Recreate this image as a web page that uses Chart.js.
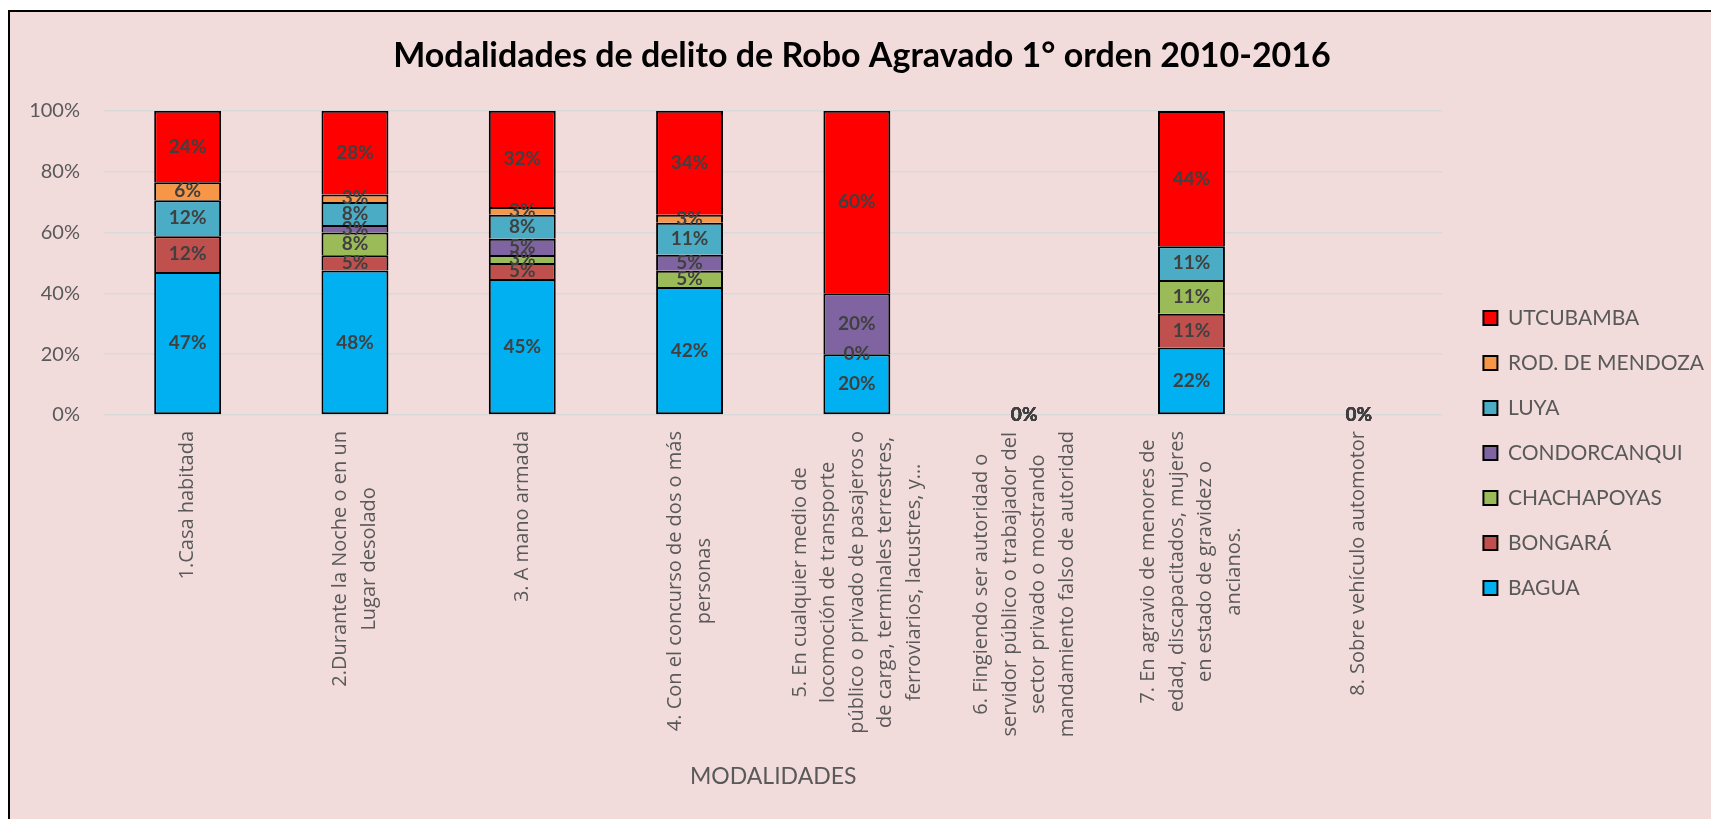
<!DOCTYPE html>
<html>
<head>
<meta charset="utf-8">
<script src="https://cdn.jsdelivr.net/npm/chart.js@4.4.1/dist/chart.umd.min.js"></script>
<style>
  html, body { margin: 0; padding: 0; background: #fff; overflow: hidden; }
  #frame { position: absolute; left: 8px; top: 10px; width: 1714px; height: 882px; border: 2px solid #000; background: #F2DCDB; }
  canvas { display: block; }
</style>
</head>
<body>
<div id="frame"><canvas id="chart" width="1714" height="882"></canvas></div>
<script>
// categorias (lineas del rotulo)
const categories = [
  ["1.Casa habitada"],
  ["2.Durante la Noche o en un", "Lugar desolado"],
  ["3. A mano armada"],
  ["4. Con el concurso de dos o más", "personas"],
  ["5. En cualquier medio de", "locomoción de transporte", "público o privado de pasajeros o", "de carga, terminales terrestres,", "ferroviarios, lacustres, y…"],
  ["6. Fingiendo ser autoridad o", "servidor público o trabajador del", "sector privado o mostrando", "mandamiento falso de autoridad"],
  ["7. En agravio de menores de", "edad, discapacitados, mujeres", "en estado de gravidez o", "ancianos."],
  ["8. Sobre vehículo automotor"]
];

// porcentajes por provincia
const bagua        = [47.0, 47.5, 44.7, 42.1, 20,   0, 22.2, 0];
const bongara      = [11.8, 5,    5.3,  null, 0,    0, 11.1, 0];
const chachapoyas  = [null, 7.5,  2.6,  5.3,  null, 0, 11.1, 0];
const condorcanqui = [null, 2.5,  5.3,  5.3,  20,   0, null, 0];
const luya         = [11.8, 7.5,  7.9,  10.5, null, 0, 11.1, 0];
const rodMendoza   = [5.9,  2.5,  2.6,  2.6,  null, 0, null, 0];
const utcubamba    = [23.5, 27.5, 31.6, 34.2, 60,   0, 44.4, 0];

const yTicks = [0, 20, 40, 60, 80, 100];

const series = [
  { label: "BAGUA", data: bagua, color: "#00B0F0" },
  { label: "BONGARÁ", data: bongara, color: "#C0504D" },
  { label: "CHACHAPOYAS", data: chachapoyas, color: "#9BBB59" },
  { label: "CONDORCANQUI", data: condorcanqui, color: "#8064A2" },
  { label: "LUYA", data: luya, color: "#4BACC6" },
  { label: "ROD. DE MENDOZA", data: rodMendoza, color: "#F79646" },
  { label: "UTCUBAMBA", data: utcubamba, color: "#FF0000" }
];

// etiquetas de valor en el centro de cada segmento
const valueLabels = {
  id: "valueLabels",
  afterDatasetsDraw(chart) {
    const ctx = chart.ctx;
    ctx.save();
    ctx.font = "bold 19px Lato";
    ctx.fillStyle = "#404040";
    ctx.textAlign = "center";
    ctx.textBaseline = "middle";
    chart.data.datasets.forEach((ds, i) => {
      chart.getDatasetMeta(i).data.forEach((bar, j) => {
        const v = ds.data[j];
        if (v === null || v === undefined) return;
        const p = bar.getProps(["x", "y", "base"], true);
        ctx.fillText(Math.round(v) + "%", p.x, (p.y + p.base) / 2);
      });
    });
    ctx.restore();
  }
};

// rotulos de categoria girados, lineas centradas
const categoryLabels = {
  id: "categoryLabels",
  afterDraw(chart) {
    const ctx = chart.ctx;
    const xs = chart.scales.x;
    ctx.save();
    ctx.font = "20px 'Open Sans'";
    ctx.fillStyle = "#595959";
    ctx.textAlign = "center";
    ctx.textBaseline = "middle";
    const lineH = 28.5;
    categories.forEach((lines, i) => {
      const x = xs.getPixelForValue(i);
      const maxW = Math.max(...lines.map(l => ctx.measureText(l).width));
      const cy = xs.top + 16 + maxW / 2;
      ctx.save();
      ctx.translate(x, cy);
      ctx.rotate(-Math.PI / 2);
      lines.forEach((l, k) => ctx.fillText(l, 0, (k - (lines.length - 1) / 2) * lineH));
      ctx.restore();
    });
    ctx.restore();
  }
};

new Chart(document.getElementById("chart"), {
  type: "bar",
  data: {
    labels: categories.map(c => c.join(" ")),
    datasets: series.map((s, i) => ({
      label: s.label,
      data: s.data,
      backgroundColor: s.color,
      borderColor: "#000",
      borderWidth: 2,
      borderSkipped: i === 0 ? false : "start",
      barPercentage: 1,
      categoryPercentage: 0.4
    }))
  },
  options: {
    responsive: false,
    animation: false,
    layout: { padding: { right: 10 } },
    plugins: {
      title: {
        display: true,
        text: "Modalidades de delito de Robo Agravado 1° orden 2010-2016",
        color: "#000",
        font: { family: "Lato", size: 34, weight: "bold" },
        padding: { top: 24, bottom: 34 }
      },
      legend: {
        position: "right",
        reverse: true,
        labels: {
          boxWidth: 14,
          boxHeight: 14,
          padding: 24,
          color: "#595959",
          font: { family: "Lato", size: 21 }
        }
      },
      tooltip: { enabled: false }
    },
    scales: {
      x: {
        stacked: true,
        grid: { display: false },
        border: { display: false },
        ticks: { display: false },
        title: {
          display: true,
          text: "MODALIDADES",
          color: "#595959",
          font: { family: "Lato", size: 23 },
          padding: { top: 0, bottom: 104 }
        },
        afterFit(s) { s.height = 479; }
      },
      y: {
        stacked: true,
        min: 0,
        max: 100,
        afterBuildTicks(s) { s.ticks = yTicks.map(v => ({ value: v })); },
        grid: { color: "#D9D9D9", lineWidth: 1.5, drawTicks: false },
        border: { display: false },
        ticks: {
          padding: 24,
          color: "#595959",
          font: { family: "Lato", size: 20 },
          callback: v => v + "%"
        },
        afterFit(s) { s.width = 94; }
      },
      gap: {
        position: "right",
        grid: { display: false, drawTicks: false },
        border: { display: false },
        ticks: { display: false },
        afterFit(s) { s.width = 17; }
      }
    }
  },
  plugins: [valueLabels, categoryLabels]
});
</script>
</body>
</html>
